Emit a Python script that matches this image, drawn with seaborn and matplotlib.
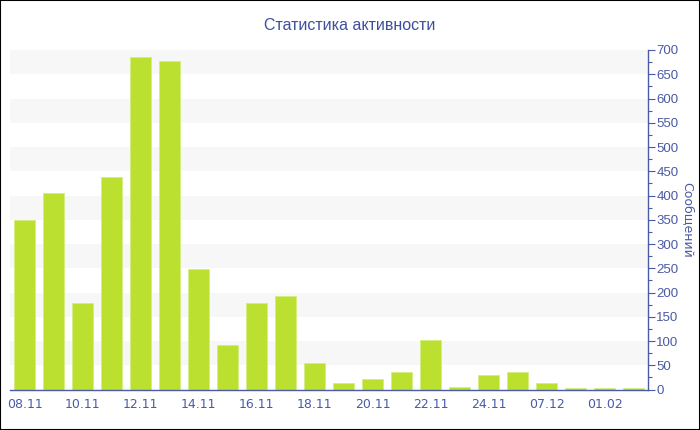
import pandas as pd
import matplotlib.pyplot as plt
import seaborn as sns
from matplotlib.patches import Rectangle
from matplotlib.ticker import MultipleLocator

dates = ['08.11', '09.11', '10.11', '11.11', '12.11', '13.11', '14.11', '15.11',
         '16.11', '17.11', '18.11', '19.11', '20.11', '21.11', '22.11', '23.11',
         '24.11', '25.11', '07.12', '12.12', '01.02', '05.02']
messages = [350, 405, 178, 438, 686, 677, 248, 91, 178, 193, 54, 13,
            22, 36, 103, 5, 31, 36, 14, 4, 4, 4]
shown_labels = dates[::2]

bar_color = '#bce030'
axis_color = '#4a5aa6'
title_color = '#3d4f9e'

df = pd.DataFrame({'Date': dates, 'Messages': messages})

sns.set_style('white')
plt.rcParams['font.family'] = ['DejaVu Sans']

fig = plt.figure(figsize=(7, 4.3), dpi=100)
ax = fig.add_axes([10 / 700, 40 / 430, 638 / 700, 340 / 430])

# alternating horizontal bands
for lo in range(50, 700, 100):
    ax.axhspan(lo, lo + 50, color='#f7f7f7', zorder=0, lw=0)

sns.barplot(data=df, x='Date', y='Messages', color=bar_color, width=0.7,
            saturation=1, edgecolor='#d4ee80', linewidth=0.6, ax=ax, zorder=2)

ax.set_xlim(-0.5, len(dates) - 0.5)
ax.set_ylim(-0.8, 700)

ax.yaxis.tick_right()
ax.yaxis.set_label_position('right')
ax.yaxis.set_major_locator(MultipleLocator(50))
ax.yaxis.set_minor_locator(MultipleLocator(25))
ax.set_ylabel('Сообщений', color=axis_color, fontsize=9, rotation=270, labelpad=11)
ax.set_xlabel('')

ax.set_xticks(range(0, len(dates), 2))
ax.set_xticklabels(shown_labels)

narrow = ['Liberation Sans', 'DejaVu Sans']
for lab in ax.get_yticklabels():
    lab.set_family(narrow)

ax.tick_params(axis='y', which='major', direction='out', length=5, width=0.8,
               colors=axis_color, labelsize=9.5, pad=1)
ax.tick_params(axis='y', which='minor', direction='out', length=3, width=0.8,
               colors=axis_color)
ax.tick_params(axis='x', direction='out', length=4, width=0.8,
               colors=axis_color, labelsize=9, pad=2)

for side in ['top', 'left']:
    ax.spines[side].set_visible(False)
for side in ['right', 'bottom']:
    ax.spines[side].set_color(axis_color)
    ax.spines[side].set_linewidth(1.0)

fig.text(0.5, 1 - 25 / 430, 'Статистика активности', ha='center', va='center',
         color=title_color, fontsize=11.5, family=narrow)

fig.patches.append(Rectangle((0, 0), 1, 1, transform=fig.transFigure, fill=False,
                             edgecolor='black', linewidth=1.5))

fig.savefig('out.png', dpi=100)
